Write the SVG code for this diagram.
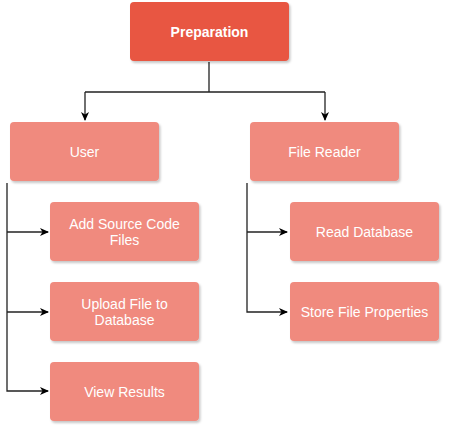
<svg xmlns="http://www.w3.org/2000/svg" width="452" height="434" viewBox="0 0 452 434">
<defs>
<filter id="sh" x="-10%" y="-10%" width="130%" height="140%"><feDropShadow dx="1.5" dy="2" stdDeviation="1.2" flood-color="#000" flood-opacity="0.22"/></filter>
<marker id="ar" markerWidth="10" markerHeight="10" refX="8" refY="5" orient="auto" markerUnits="userSpaceOnUse"><path d="M0,1 L9,5 L0,9 L2.5,5 Z" fill="#000"/></marker>
<style>
.c{fill:none;stroke:#222;stroke-width:1.3}
.n{fill:#F08A7E;filter:url(#sh)}
.r{fill:#E85642;filter:url(#sh)}
.t{font-family:"Liberation Sans",Arial,sans-serif;font-size:14px;fill:#fff;text-anchor:middle}
.b{font-weight:bold;font-size:14px}
</style>
</defs>
<rect width="452" height="434" fill="#fff"/>
<g id="connectors">
<path class="c" d="M209,62 V92 M85,92 H325"/>
<path class="c" d="M85,92 V120" marker-end="url(#ar)"/>
<path class="c" d="M325,92 V120" marker-end="url(#ar)"/>
<path class="c" d="M7,183 V391 H48" marker-end="url(#ar)"/>
<path class="c" d="M7,232 H48" marker-end="url(#ar)"/>
<path class="c" d="M7,312 H48" marker-end="url(#ar)"/>
<path class="c" d="M247,183 V312 H287" marker-end="url(#ar)"/>
<path class="c" d="M247,232 H287" marker-end="url(#ar)"/>
</g>
<g id="preparation"><rect class="r" x="130" y="2" width="159" height="59" rx="4"/><text class="t b" x="209.5" y="36.5">Preparation</text></g>
<g id="user"><rect class="n" x="10" y="122" width="149" height="59" rx="4"/><text class="t" x="84.5" y="156.5">User</text></g>
<g id="file-reader"><rect class="n" x="250" y="122" width="149" height="59" rx="4"/><text class="t" x="324.5" y="156.5">File Reader</text></g>
<g id="add-source"><rect class="n" x="50" y="202" width="149" height="59" rx="4"/><text class="t" x="124.5" y="229">Add Source Code</text><text class="t" x="124.5" y="245">Files</text></g>
<g id="upload"><rect class="n" x="50" y="282" width="149" height="59" rx="4"/><text class="t" x="124.5" y="309">Upload File to</text><text class="t" x="124.5" y="325">Database</text></g>
<g id="view-results"><rect class="n" x="50" y="362" width="149" height="59" rx="4"/><text class="t" x="124.5" y="396.5">View Results</text></g>
<g id="read-db"><rect class="n" x="290" y="202" width="149" height="59" rx="4"/><text class="t" x="364.5" y="236.5">Read Database</text></g>
<g id="store-props"><rect class="n" x="290" y="282" width="149" height="59" rx="4"/><text class="t" x="364.5" y="316.5">Store File Properties</text></g>
</svg>
